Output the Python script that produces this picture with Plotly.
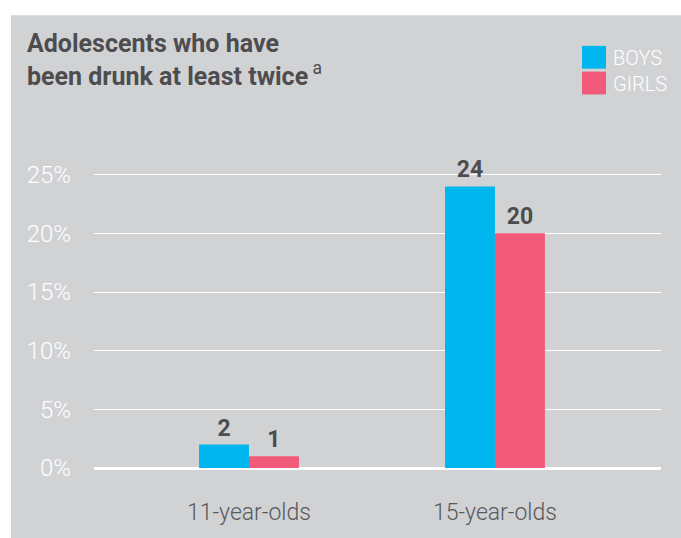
import plotly.graph_objects as go

categories = ["11-year-olds", "15-year-olds"]
boys = [2, 24]
girls = [1, 20]
y_ticks = [0, 5, 10, 15, 20, 25]
y_tick_labels = ["0%", "5%", "10%", "15%", "20%", "25%"]
series_names = ["BOYS", "GIRLS"]
series_colors = ["#00b6ee", "#f15a79"]
title_lines = ["Adolescents who have", "been drunk at least twice"]

BG = "#d1d2d4"
DARK = "#4d4d4f"
FONT = "Roboto"

W, H = 681, 538
L, R, T, B = 94, 20, 140, 67
PW = W - L - R
PH = H - T - B


def px(x):
    return (x - L) / PW


def py(y):
    return (H - B - y) / PH


fig = go.Figure()
for name, vals, col in zip(series_names, [boys, girls], series_colors):
    fig.add_trace(go.Bar(
        x=categories, y=vals, name=name, marker=dict(color=col, line=dict(width=0)),
        text=[str(v) for v in vals], textposition="outside",
        outsidetextfont=dict(family=FONT, size=23, color=DARK, weight="bold"),
        cliponaxis=False, showlegend=False,
    ))

shapes = [dict(type="rect", xref="paper", yref="paper", x0=px(11), x1=px(700),
               y0=py(560), y1=py(14), fillcolor=BG, line=dict(width=0), layer="below")]
annotations = [dict(
    xref="paper", yref="paper", x=px(25), y=py(26), xanchor="left", yanchor="top",
    align="left", showarrow=False,
    text="<b>" + title_lines[0] + "</b><br><b>" + title_lines[1] + "</b><sup> a</sup>",
    font=dict(family=FONT, size=25, color=DARK),
)]
# legend
leg_y = [(45, 68), (71, 94)]
for (y0, y1), name, col in zip(leg_y, series_names, series_colors):
    shapes.append(dict(type="rect", xref="paper", yref="paper", x0=px(582), x1=px(606),
                       y0=py(y1), y1=py(y0), fillcolor=col, line=dict(width=0)))
    annotations.append(dict(xref="paper", yref="paper", x=px(611), y=py((y0 + y1) / 2 + 1),
                            xanchor="left", yanchor="middle", showarrow=False, text=name,
                            font=dict(family=FONT, size=20, color="white", weight=300)))

fig.update_layout(
    width=W, height=H, margin=dict(l=L, r=R, t=T, b=B),
    paper_bgcolor="white", plot_bgcolor=BG,
    barmode="group", bargap=0.594, bargroupgap=0,
    shapes=shapes, annotations=annotations,
    xaxis=dict(range=[-0.63, 1.675], showgrid=False, zeroline=False, showline=False,
               ticks="", ticklabelstandoff=28,
               tickfont=dict(family=FONT, size=23, color="#58595b", weight=300)),
    yaxis=dict(range=[0, PH / 11.84], tickvals=y_ticks, ticktext=y_tick_labels,
               showgrid=True, gridcolor="white", gridwidth=1,
               zeroline=True, zerolinecolor="white", zerolinewidth=2.5,
               showline=False, ticks="", ticklabelstandoff=22,
               tickfont=dict(family=FONT, size=24, color="white", weight=300)),
)
fig.write_html("out.html", config={"displayModeBar": False},
               post_script="document.body.style.margin='0';")
